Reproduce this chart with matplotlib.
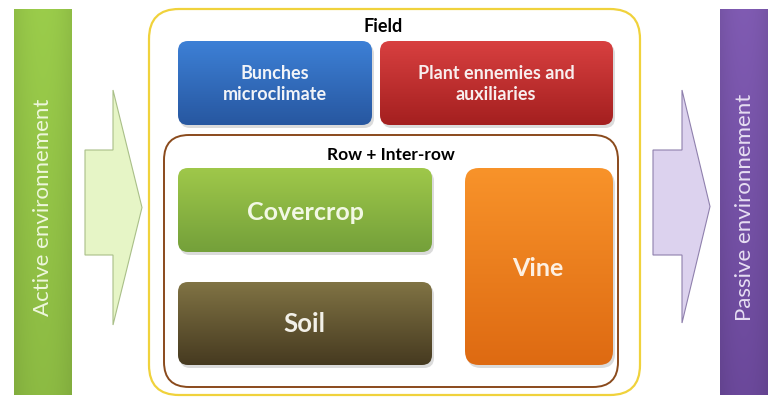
import numpy as np
import matplotlib.pyplot as plt
from matplotlib.patches import FancyBboxPatch, Polygon
import matplotlib.colors as mcolors

plt.rcParams['font.family'] = ['Lato', 'DejaVu Sans']

# Labels of the diagram
side_labels = ['Active environnement', 'Passive environnement']
container_labels = ['Field', 'Row + Inter-row']
top_boxes = ['Bunches\nmicroclimate', 'Plant ennemies and\nauxiliaries']
inner_boxes = ['Covercrop', 'Soil', 'Vine']

fig = plt.figure(figsize=(7.68, 4.05), dpi=100)
ax = fig.add_axes([0, 0, 1, 1])
ax.set_xlim(0, 768)
ax.set_ylim(405, 0)
ax.axis('off')


def gradient_box(x0, y0, x1, y1, c_top, c_bot, rad=10, shadow=True, horiz_shade=False):
    w, h = x1 - x0, y1 - y0
    if shadow:
        sh = FancyBboxPatch((x0 + 2, y0 + 3), w, h, boxstyle=f"round,pad=0,rounding_size={rad}",
                            fc='#b0b0b0', ec='none', alpha=0.45, zorder=1)
        ax.add_patch(sh)
    patch = FancyBboxPatch((x0, y0), w, h, boxstyle=f"round,pad=0,rounding_size={rad}",
                           fc='none', ec='none', zorder=2)
    ax.add_patch(patch)
    t = np.linspace(0, 1, 200)[:, None]
    a = np.array(mcolors.to_rgb(c_top))
    b = np.array(mcolors.to_rgb(c_bot))
    img = a[None, None, :] * (1 - t[:, :, None]) + b[None, None, :] * t[:, :, None]
    img = np.repeat(img, 2, axis=1)
    if horiz_shade:
        s = np.linspace(-1, 1, 60)
        f = 1 + 0.08 * (1 - s ** 2)
        img = np.clip(img[:, :1, :] * f[None, :, None], 0, 1)
    im = ax.imshow(img, extent=(x0, x1, y1, y0), aspect='auto', zorder=2, interpolation='bilinear')
    im.set_clip_path(patch)


def arrow(x0, x1, xt, sy0, sy1, hy0, hy1, fc, ec):
    pts = [(x0, sy0), (x1, sy0), (x1, hy0), (xt, (hy0 + hy1) / 2), (x1, hy1), (x1, sy1), (x0, sy1)]
    ax.add_patch(Polygon(pts, closed=True, fc=fc, ec=ec, lw=0.8, zorder=2))


# side bars
gradient_box(14, 9, 72, 395, '#8fbd45', '#82ad3e', rad=0, shadow=False, horiz_shade=True)
ax.text(43, 207, side_labels[0], rotation=90, ha='center', va='center', fontsize=16,
        color='#eef7dc', zorder=5)
gradient_box(720, 9, 768, 395, '#7654a5', '#63438f', rad=0, shadow=False, horiz_shade=True)
ax.text(745, 207, side_labels[1], rotation=90, ha='center', va='center', fontsize=16,
        color='#e6def2', zorder=5)

# arrows
arrow(85, 113, 142, 150, 255, 90, 325, '#e6f5c6', '#a9bf88')
arrow(653, 682, 710, 150, 255, 90, 323, '#dcd2ee', '#8f80ad')

# containers
ax.add_patch(FancyBboxPatch((149, 9), 491, 386, boxstyle="round,pad=0,rounding_size=30",
                            fc='white', ec='#f0d23c', lw=1.6, zorder=1))
ax.text(383, 26, container_labels[0], ha='center', va='center', fontsize=13,
        fontweight='bold', color='black', zorder=5)
ax.add_patch(FancyBboxPatch((164, 135), 454, 252, boxstyle="round,pad=0,rounding_size=25",
                            fc='none', ec='#8a4a1c', lw=1.4, zorder=3))
ax.text(391, 155, container_labels[1], ha='center', va='center', fontsize=12.5,
        fontweight='bold', color='black', zorder=5)

# top boxes
gradient_box(178, 41, 372, 125, '#3d80d6', '#2757a0')
ax.text(275, 84, top_boxes[0], ha='center', va='center', fontsize=13, fontweight='bold',
        color='#f2f4f8', linespacing=1.25, zorder=5)
gradient_box(380, 41, 613, 125, '#d84040', '#a41f1f')
ax.text(496, 84, top_boxes[1], ha='center', va='center', fontsize=13, fontweight='bold',
        color='#f8eeee', linespacing=1.25, zorder=5)

# inner boxes
gradient_box(178, 168, 432, 252, '#9fc84a', '#74a03a')
ax.text(305, 212, inner_boxes[0], ha='center', va='center', fontsize=18, fontweight='bold',
        color='#f2f8e4', zorder=5)
gradient_box(178, 282, 432, 365, '#807344', '#463a20')
ax.text(304, 324, inner_boxes[1], ha='center', va='center', fontsize=18.5, fontweight='bold',
        color='#f2f0e8', zorder=5)
gradient_box(465, 168, 613, 365, '#f8932a', '#de6a12', rad=14)
ax.text(538, 268, inner_boxes[2], ha='center', va='center', fontsize=18, fontweight='bold',
        color='#fdf0e2', zorder=5)

fig.savefig('out.png', dpi=100, facecolor='white')
